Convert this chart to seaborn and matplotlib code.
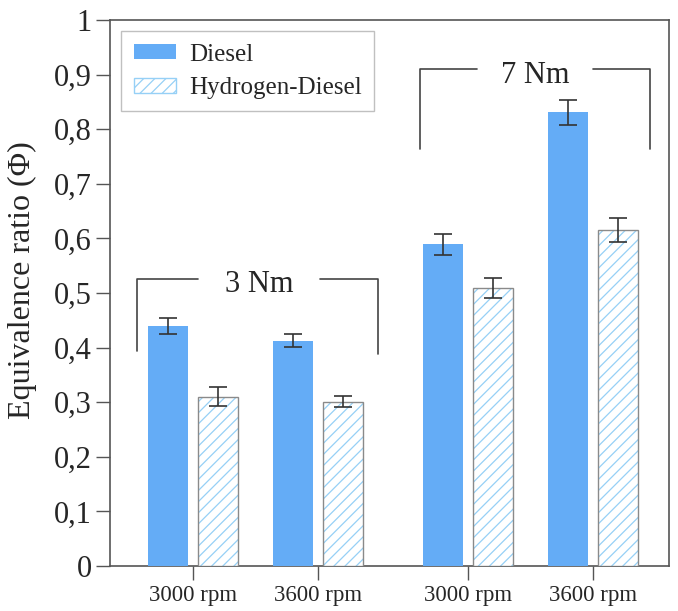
"""Equivalence ratio of diesel vs hydrogen-diesel operation at two loads and two speeds."""
import pandas as pd
import matplotlib.pyplot as plt
from matplotlib.patches import Patch, Rectangle
from matplotlib.ticker import FuncFormatter
import seaborn as sns

FUELS = ["Diesel", "Hydrogen-Diesel"]
SPEEDS = ["3000 rpm", "3600 rpm", "3000 rpm", "3600 rpm"]
TORQUES = ["3 Nm", "3 Nm", "7 Nm", "7 Nm"]
DIESEL = [0.44, 0.413, 0.589, 0.831]
DIESEL_ERR = [0.015, 0.012, 0.019, 0.023]
HYDROGEN = [0.31, 0.301, 0.509, 0.616]
HYDROGEN_ERR = [0.017, 0.010, 0.018, 0.022]

# layout: group centres on the x axis (gap between the two torque blocks)
GROUP_POS = [0, 1, 2.2, 3.2]
# torque brackets: x0, x1, y_top, y_left, y_right, inner gap left/right, text x, text baseline
BRACKETS = [
    ("3 Nm", -0.448, 1.48, 0.526, 0.394, 0.388, 0.04, 1.016, 0.53, 0.502),
    ("7 Nm", 1.82, 3.66, 0.91, 0.764, 0.764, 2.27, 3.2, 2.74, 0.885),
]

DIESEL_COLOR = "#64acf6"
HATCH_COLOR = "#96d0f6"
OUTLINE = "#8a8a8a"
LINE = "#555555"


def _comma(v, _):
    return ("%g" % round(v, 1)).replace(".", ",")


def main():
    sns.set_style("ticks")
    plt.rcParams["font.family"] = ["Liberation Serif", "DejaVu Serif"]
    plt.rcParams["hatch.linewidth"] = 0.9

    df = pd.DataFrame({
        "pos": GROUP_POS * 2,
        "fuel": [FUELS[0]] * 4 + [FUELS[1]] * 4,
        "phi": DIESEL + HYDROGEN,
    })

    fig = plt.figure(figsize=(6.78, 6.11), dpi=100)
    ax = fig.add_axes([0.1622, 0.0736, 0.8245, 0.8937])
    sns.barplot(
        data=df, x="pos", y="phi", hue="fuel", hue_order=FUELS,
        palette=[DIESEL_COLOR, "white"], saturation=1, native_scale=True,
        width=0.8, gap=0.19, errorbar=None, legend=False, ax=ax,
    )

    diesel_bars, h2_bars = ax.containers[0], ax.containers[1]
    for p in diesel_bars:
        p.set_linewidth(0)
        p.set_zorder(2)
    for p in h2_bars:
        p.set_hatch("///")
        p.set_edgecolor(HATCH_COLOR)
        p.set_linewidth(0)
        p.set_zorder(2)
        ax.add_patch(Rectangle(p.get_xy(), p.get_width(), p.get_height(),
                               fill=False, edgecolor=OUTLINE, lw=1.0, zorder=2.1))

    for bars, vals, errs in [(diesel_bars, DIESEL, DIESEL_ERR), (h2_bars, HYDROGEN, HYDROGEN_ERR)]:
        xs = [p.get_x() + p.get_width() / 2 for p in bars]
        ax.errorbar(xs, vals, yerr=errs, fmt="none", ecolor="#333333",
                    elinewidth=1.2, capsize=6.5, capthick=1.2, zorder=4)

    for label, x0, x1, yt, yl, yr, g0, g1, tx, ty in BRACKETS:
        ax.plot([x0, x0, g0], [yl, yt, yt], color="#444444", lw=1.2, zorder=3)
        ax.plot([g1, x1, x1], [yt, yt, yr], color="#444444", lw=1.2, zorder=3)
        ax.text(tx, ty, label, ha="center", va="baseline", fontsize=22)

    ax.set_xlim(-0.664, 3.81)
    ax.set_ylim(0, 1)
    ax.set_xticks(GROUP_POS, SPEEDS)
    ax.set_yticks([i / 10 for i in range(11)])
    ax.yaxis.set_major_formatter(FuncFormatter(_comma))
    ax.tick_params(axis="x", labelsize=16.5, length=10, width=1, color=LINE, pad=4)
    ax.tick_params(axis="y", labelsize=22, length=10, width=1, color=LINE, pad=3)
    ax.set_xlabel("")
    ax.set_ylabel("Equivalence ratio (Φ)", fontsize=23)
    ax.yaxis.set_label_coords(-0.131, 0.524)

    for side, spine in ax.spines.items():
        spine.set_visible(True)
        spine.set_color(LINE)
        spine.set_linewidth(1.2)
    ax.spines["bottom"].set_zorder(0.5)

    handles = [
        Patch(facecolor=DIESEL_COLOR, edgecolor="none", label=FUELS[0]),
        Patch(facecolor="white", edgecolor=HATCH_COLOR, hatch="///", label=FUELS[1]),
    ]
    leg = ax.legend(handles=handles, loc="upper left", fontsize=18, frameon=True,
                    fancybox=False, edgecolor="#c0c0c0", framealpha=1,
                    handlelength=1.7, handleheight=0.55, handletextpad=0.5,
                    borderpad=0.5, borderaxespad=0.45, labelspacing=0.45)
    leg.get_frame().set_linewidth(1.0)

    fig.savefig("out.png", dpi=100)


if __name__ == "__main__":
    main()
